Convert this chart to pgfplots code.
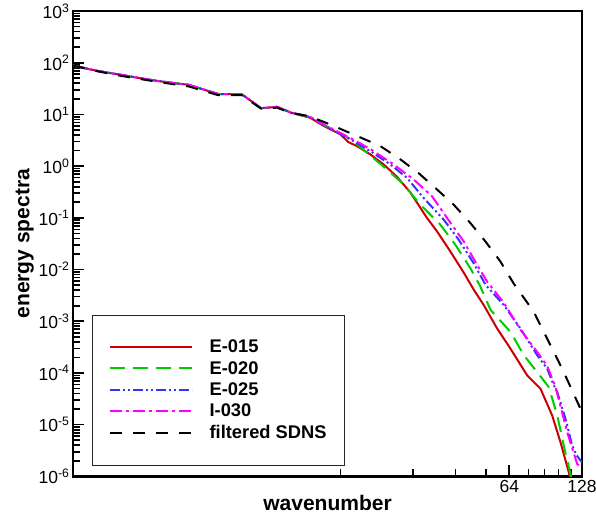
\documentclass[border=0pt]{standalone}
\usepackage{pgfplots}
\pgfplotsset{compat=1.18}
\usepackage{fontspec}
\setmainfont{Liberation Sans}
\definecolor{cred}{RGB}{204,0,0}
\definecolor{cgreen}{RGB}{0,204,0}
\definecolor{cblue}{RGB}{51,51,255}
\definecolor{cmag}{RGB}{255,0,255}
\newcommand{\tp}[1]{10\textsuperscript{#1}}
\begin{document}
\begin{tikzpicture}
\useasboundingbox (-73pt,-46pt) rectangle (522.5pt,476pt);
\begin{axis}[
  scale only axis, width=508.5pt, height=465pt,
  xmode=log, ymode=log,
  xmin=1, xmax=128, ymin=1e-6, ymax=1e3,
  xtick={64,128}, xticklabels={\mbox{64},\mbox{128}},
  minor xtick={12.8,25.6,38.4,51.2,76.8,89.6,102.4,115.2},
  ytick={1e-6,1e-5,1e-4,1e-3,1e-2,1e-1,1,10,100,1000},
  yticklabels={\tp{-6},\tp{-5},\tp{-4},\tp{-3},\tp{-2},\tp{-1},\tp{0},\tp{1},\tp{2},\tp{3}},
  tick align=inside, xtick pos=bottom, ytick pos=left,
  major tick length=11pt, minor tick length=7pt,
  every tick/.style={black, line width=1.6pt},
  axis line style={line width=2.6pt},
  tick label style={font=\fontsize{17.5}{20}\selectfont},
  xlabel={wavenumber}, ylabel={energy spectra},
  label style={font=\bfseries\fontsize{21}{24}\selectfont},
  xlabel style={yshift=4pt},
  ylabel style={yshift=-2pt},
  legend style={at={(rel axis cs:0.0374,0.0237)}, anchor=south west,
    draw=black!85, line width=0.8pt, inner xsep=16pt, inner ysep=23pt,
    font=\bfseries\fontsize{18.3}{21}\selectfont, row sep=3pt, column sep=15pt,
    cells={anchor=west}},
  legend image code/.code={\draw[#1] (0pt,0pt) -- (82pt,0pt);},
  every axis plot/.append style={line width=2pt},
]
\addplot[cred, solid] coordinates {
(1,88) (1.25,70) (1.57,58.5) (2,48) (2.5,41.4) (3,37.5) (4,24.7) (5,24.5) (6,13.2) (7,14.0) (8,10.8) (9.6,8.6) (10.9,6.0) (12.78,4.13) (13.83,2.9) (14.99,2.44) (17.01,1.69) (19.32,1.08) (21.95,0.62) (24.92,0.31) (29.22,0.0991) (32.15,0.0547) (36.5,0.0224) (41.44,0.00875) (45.6,0.00409) (50.16,0.00206) (57.01,7.24e-4) (64.71,2.96e-4) (75.89,9.0e-5) (86.18,4.96e-5) (96.33,1.51e-5) (104.3,4.57e-6) (112.9,1.2e-6) (116.9,6.1e-7)
};
\addlegendentry{E-015}
\addplot[cgreen, dash pattern=on 15pt off 8pt] coordinates {
(1,88) (1.25,70) (1.57,58.5) (2,48) (2.5,41.4) (3,37.5) (4,24.7) (5,24.5) (6,13.2) (7,14.0) (8,10.8) (9.6,8.67) (10.9,6.25) (12.78,4.37) (14.47,3.06) (16.49,1.81) (19.96,0.863) (23.38,0.441) (27.42,0.180) (31.12,0.0991) (33.18,0.0738) (38.28,0.0302) (44.17,0.0106) (48.6,0.00468) (53.47,0.00167) (64.71,6.25e-4) (73.48,2.21e-4) (83.5,1.04e-4) (93.25,5.35e-5) (101.1,1.51e-5) (107.6,3.94e-6) (114.7,1.11e-6) (118,6.1e-7)
};
\addlegendentry{E-020}
\addplot[cblue, dash pattern=on 10pt off 3pt on 2pt off 3pt on 2pt off 3pt] coordinates {
(1,88) (1.25,70) (1.57,58.5) (2,48) (2.5,41.4) (3,37.5) (4,24.7) (5,24.5) (6,13.2) (7,14.0) (8,10.8) (9.6,8.94) (10.9,6.25) (14.06,3.30) (17.01,1.95) (20.59,1.08) (24.15,0.593) (28.29,0.242) (34.25,0.0923) (39.51,0.0378) (45.6,0.0132) (50.97,0.00512) (60.71,0.00206) (71.21,7.24e-4) (83.5,2.21e-4) (91.84,1.21e-4) (97.83,5.76e-5) (101.1,4.28e-5) (109.4,1.30e-5) (116.6,3.94e-6) (121.5,2.56e-6) (128,1.87e-6)
};
\addlegendentry{E-025}
\addplot[cmag, dash pattern=on 12pt off 4pt on 3pt off 4pt] coordinates {
(1,88) (1.25,70) (1.57,58.5) (2,48) (2.5,41.4) (3,37.5) (4,24.7) (5,24.5) (6,13.2) (7,14.0) (8,10.8) (9.6,8.94) (10.9,6.39) (14.06,3.50) (17.01,2.14) (21.25,1.08) (25.72,0.552) (30.65,0.261) (35.38,0.0991) (41.44,0.0350) (47.10,0.0123) (51.80,0.00585) (60.71,0.00229) (71.21,6.84e-4) (83.5,2.56e-4) (91.84,1.37e-4) (99.44,5.35e-5) (111.2,7.15e-6) (122.3,1.73e-6) (128,1.50e-6)
};
\addlegendentry{I-030}
\addplot[black, dash pattern=on 12pt off 11pt] coordinates {
(1,88) (1.25,69) (1.57,56) (2,46.5) (2.5,39.5) (3,35) (4,23.5) (5,23.5) (6,13) (7,13.5) (7.93,10.8) (9.6,9.15) (11.99,5.98) (14.99,3.83) (18.72,2.44) (22.66,1.35) (26.98,0.731) (32.15,0.353) (37.67,0.180) (44.17,0.0793) (50.97,0.0350) (58.82,0.0143) (66.78,0.00535) (80.8,0.00153) (93.25,4.0e-4) (107.6,1.04e-4) (128,1.75e-5)
};
\addlegendentry{filtered SDNS}
\end{axis}
\end{tikzpicture}
\end{document}
